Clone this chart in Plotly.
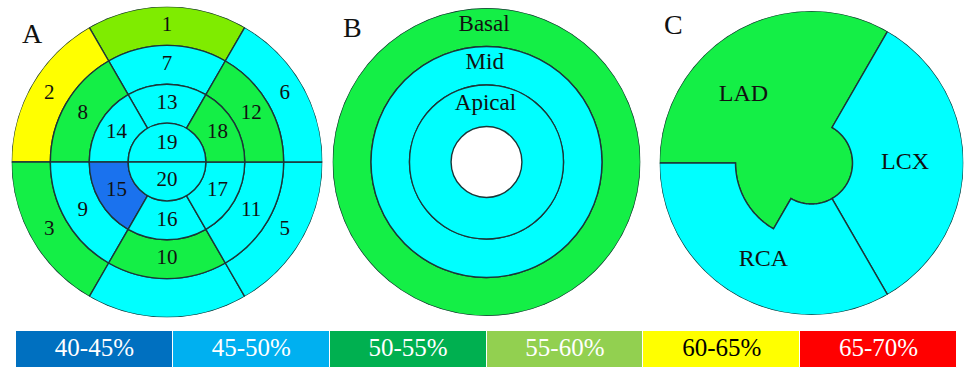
import numpy as np
import plotly.graph_objects as go

# ------------------------------------------------------------------ data
band_labels = ["40-45%", "45-50%", "50-55%", "55-60%", "60-65%", "65-70%"]
legend_colors = ["#0070c0", "#00b0f0", "#00b050", "#92d050", "#ffff00", "#ff0000"]
legend_text_colors = ["#ffffff", "#ffffff", "#ffffff", "#ffffff", "#000000", "#ffffff"]
map_colors = ["#1a72ee", "#00ffff", "#14ef46", "#7fec00", "#ffff00", "#ff0000"]

segment_ids = list(range(1, 21))
segment_text = ["1", "2", "3", "", "5", "6", "7", "8", "9", "10",
                "11", "12", "13", "14", "15", "16", "17", "18", "19", "20"]
segment_band = ["55-60%", "60-65%", "50-55%", "45-50%", "45-50%", "45-50%",
                "45-50%", "50-55%", "45-50%", "50-55%", "45-50%", "50-55%",
                "45-50%", "45-50%", "40-45%", "45-50%", "45-50%", "50-55%",
                "45-50%", "45-50%"]

region_names = ["Basal", "Mid", "Apical"]
region_band = ["50-55%", "45-50%", "45-50%"]

territory_names = ["LAD", "LCX", "RCA"]
territory_band = ["50-55%", "45-50%", "45-50%"]

panel_letters = ["A", "B", "C"]

# ------------------------------------------------------------------ style
W, H = 964, 372
EDGE = "#1c3638"
EW = 1.4
SERIF = "Liberation Serif"


def color_of(band):
    return map_colors[band_labels.index(band)]


def dom(cx, cy, r):
    return dict(x=[(cx - r) / W, (cx + r) / W],
                y=[(H - cy - r) / H, (H - cy + r) / H])


def polar_layout(d):
    return dict(domain=d, bgcolor="rgba(0,0,0,0)", bargap=0,
                radialaxis=dict(visible=False, range=[0, 4]),
                angularaxis=dict(visible=False, direction="counterclockwise",
                                 rotation=0))


fig = go.Figure()

# ------------------------------------------------------------------ A : 20 segments
seg_theta, seg_width, seg_base, seg_len = [], [], [], []
lab_theta, lab_r = [], []
for sid in segment_ids:
    if sid <= 18:
        ring = (sid - 1) // 6
        k = (sid - 1) % 6
        seg_theta.append(90 + 60 * k)
        seg_width.append(60)
        seg_base.append(3 - ring)
        seg_len.append(1)
        lab_theta.append(90 + 60 * k)
        lab_r.append(3.5 - ring)
    else:
        t = 90 if sid == 19 else 270
        seg_theta.append(t)
        seg_width.append(180)
        seg_base.append(0)
        seg_len.append(1)
        lab_theta.append(t)
        lab_r.append(0.48)

fig.add_trace(go.Barpolar(
    theta=seg_theta, r=seg_len, base=seg_base, width=seg_width,
    marker=dict(color=[color_of(b) for b in segment_band],
                line=dict(color=EDGE, width=EW)),
    customdata=segment_band, text=[str(s) for s in segment_ids],
    hovertemplate="Segment %{text}: %{customdata}<extra></extra>",
    subplot="polar", showlegend=False))
fig.add_trace(go.Scatterpolar(
    theta=lab_theta, r=lab_r, mode="text", text=segment_text,
    textfont=dict(family=SERIF, size=21, color="#111111"),
    hoverinfo="skip", subplot="polar", showlegend=False))

# ------------------------------------------------------------------ B : rings
ring_base = [3, 2, 0.92]
ring_top = [4, 3, 2]
fig.add_trace(go.Barpolar(
    theta=[0, 0, 0], width=[360, 360, 360],
    base=ring_base, r=[t - b for t, b in zip(ring_top, ring_base)],
    marker=dict(color=[color_of(b) for b in region_band],
                line=dict(color=EDGE, width=EW)),
    customdata=region_band, text=region_names,
    hovertemplate="%{text}: %{customdata}<extra></extra>",
    subplot="polar2", showlegend=False))
fig.add_trace(go.Scatterpolar(
    theta=[91, 91, 91], r=[3.56, 2.57, 1.5], mode="text", text=region_names,
    textfont=dict(family=SERIF, size=23, color="#111111"),
    hoverinfo="skip", subplot="polar2", showlegend=False))

# ------------------------------------------------------------------ C : territories
R, RC, RM = 4.0, 1.08, 2.0


def arc(r, a0, a1):
    n = int(abs(a1 - a0)) + 2
    th = np.linspace(a0, a1, n)
    return list(th), [r] * n


def path(pieces):
    th, rr = [], []
    for p in pieces:
        th += p[0]
        rr += p[1]
    th.append(th[0])
    rr.append(rr[0])
    return th, rr


shapes_c = {
    "LAD": path([arc(R, 60, 180), arc(RM, 180, 240), arc(RC, 240, 420)]),
    "LCX": path([arc(R, -60, 60), arc(RC, 60, -60)]),
    "RCA": path([arc(R, 180, 300), arc(RC, 300, 240), arc(RM, 240, 180)]),
}
for name, band in zip(territory_names, territory_band):
    th, rr = shapes_c[name]
    fig.add_trace(go.Scatterpolar(
        theta=th, r=rr, mode="lines", fill="toself",
        fillcolor=color_of(band), line=dict(color=EDGE, width=EW),
        name=name, hovertemplate=name + ": " + band + "<extra></extra>",
        subplot="polar3", showlegend=False))

c_lab_pos = {"LAD": (135, 2.53), "LCX": (0, 2.46), "RCA": (243.6, 2.85)}
fig.add_trace(go.Scatterpolar(
    theta=[c_lab_pos[n][0] for n in territory_names],
    r=[c_lab_pos[n][1] for n in territory_names],
    mode="text", text=territory_names,
    textfont=dict(family=SERIF, size=24, color="#111111"),
    hoverinfo="skip", subplot="polar3", showlegend=False))

# ------------------------------------------------------------------ colour key
fig.add_trace(go.Bar(
    x=band_labels, y=[1] * len(band_labels),
    marker=dict(color=legend_colors, line=dict(color="#ffffff", width=1)),
    hoverinfo="skip", showlegend=False, xaxis="x", yaxis="y"))
fig.add_trace(go.Scatter(
    x=band_labels, y=[0.5] * len(band_labels), mode="text", text=band_labels,
    textfont=dict(family=SERIF, size=25, color=legend_text_colors),
    hoverinfo="skip", showlegend=False, xaxis="x", yaxis="y"))

# ------------------------------------------------------------------ layout
letter_pos = [(32, 33), (352, 27), (673, 25)]
annotations = [dict(text=t, x=px / W, y=1 - py / H, xref="paper", yref="paper",
                    showarrow=False, xanchor="center", yanchor="middle",
                    font=dict(family=SERIF, size=28, color="#111111"))
               for t, (px, py) in zip(panel_letters, letter_pos)]

fig.update_layout(
    width=W, height=H, margin=dict(l=0, r=0, t=0, b=0),
    paper_bgcolor="#ffffff", plot_bgcolor="rgba(0,0,0,0)",
    polar=polar_layout(dom(167, 162, 155.5)),
    polar2=polar_layout(dom(486.5, 162, 154)),
    polar3=polar_layout(dom(811.5, 163, 152)),
    xaxis=dict(domain=[16 / W, 957 / W], visible=False, range=[-0.5, 5.5],
               fixedrange=True),
    yaxis=dict(domain=[(H - 368) / H, (H - 331) / H], visible=False,
               range=[0, 1], fixedrange=True),
    bargap=0, annotations=annotations,
)

fig.write_html("out.html",
               config={"displayModeBar": False},
               post_script="document.body.style.margin='0';"
                           "document.body.style.overflow='hidden';")
